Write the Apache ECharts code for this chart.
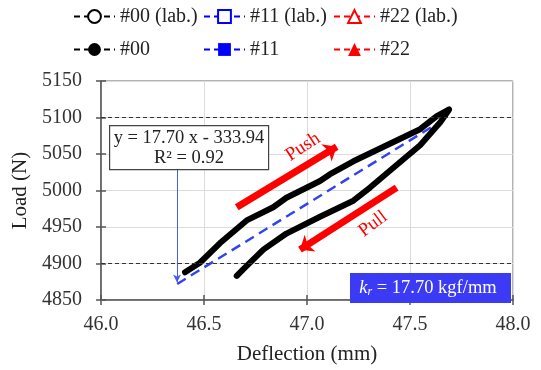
<!DOCTYPE html>
<html>
<head>
<meta charset="utf-8">
<script src="https://cdn.jsdelivr.net/npm/echarts@6/dist/echarts.min.js"></script>
<style>
  html, body { margin: 0; padding: 0; background: #fff; }
  #chart { width: 541px; height: 370px; }
</style>
</head>
<body>
<div id="chart"></div>
<script>
// 荷载-位移滞回曲线 (push 上行, pull 下行)
var pushBranch = [
  [46.408, 4888], [46.48, 4901], [46.578, 4928], [46.707, 4959], [46.836, 4977],
  [46.90, 4990], [47.063, 5013], [47.11, 5022], [47.225, 5040], [47.387, 5062],
  [47.549, 5084], [47.63, 5102], [47.69, 5111]
]
var pullBranch = [
  [47.646, 5093], [47.549, 5062], [47.435, 5035], [47.306, 5004], [47.225, 4986],
  [47.063, 4964], [46.90, 4941], [46.788, 4919], [46.69, 4892], [46.659, 4883]
]
// 线性拟合
var fitLine = [[46.37, 4872], [47.68, 5100]]
var refLoads = [4900, 5100]
var pushArrow = [[46.659, 4977], [47.144, 5060]]
var pullArrow = [[47.435, 5004], [46.966, 4919]]
var noteArrow = [[46.369, 5032], [46.369, 4874]]
var fitText = ['y = 17.70 x - 333.94', 'R² = 0.92']
var krText = '17.70 kgf/mm'

var serif = "'Liberation Serif', 'Times New Roman', serif"
var legendSeries = [
  { name: '#00 (lab.)', color: '#000', symbol: 'emptyCircle' },
  { name: '#11 (lab.)', color: '#0000ff', symbol: 'emptyRect' },
  { name: '#22 (lab.)', color: '#ff0000', symbol: 'emptyTriangle' },
  { name: '#00', color: '#000', symbol: 'circle' },
  { name: '#11', color: '#0000ff', symbol: 'rect' },
  { name: '#22', color: '#ff0000', symbol: 'triangle' }
]

var chart = echarts.init(document.getElementById('chart'))

var legendCol = function (left, names) {
  return {
    orient: 'vertical',
    left: left,
    top: 6,
    padding: 0,
    itemWidth: 41,
    itemHeight: 16,
    itemGap: 12,
    selectedMode: false,
    textStyle: { fontFamily: serif, fontSize: 20, color: '#222', lineHeight: 21 },
    data: names
  }
}

var series = legendSeries.map(function (s) {
  return {
    name: s.name,
    type: 'line',
    data: [],
    symbol: s.symbol,
    symbolSize: 13,
    itemStyle: { color: s.color, borderWidth: 2 },
    lineStyle: { color: s.color, type: [6, 4], width: 2 }
  }
})

series.push({
  name: 'fit',
  type: 'line',
  data: fitLine,
  symbol: 'none',
  silent: true,
  lineStyle: { color: '#3344ee', type: [10, 6], width: 2.5 },
  z: 3,
  markLine: {
    silent: true,
    symbol: 'none',
    label: { show: false },
    lineStyle: { color: '#333', type: [4, 3], width: 1 },
    data: refLoads.map(function (v) { return { yAxis: v } })
  }
})

series.push({
  name: 'loop',
  type: 'line',
  data: pushBranch.concat(pullBranch),
  symbol: 'none',
  silent: true,
  lineStyle: { color: '#000', width: 6, join: 'round', cap: 'round' },
  z: 4
})

series.push({
  name: 'arrows',
  type: 'line',
  data: [],
  silent: true,
  markLine: {
    silent: true,
    symbol: ['none', 'arrow'],
    symbolSize: [15, 12],
    label: { show: false },
    data: [
      [{ coord: pushArrow[0], lineStyle: { color: '#ff0000', width: 7, type: 'solid' } }, { coord: pushArrow[1] }],
      [{ coord: pullArrow[0], lineStyle: { color: '#ff0000', width: 7, type: 'solid' } }, { coord: pullArrow[1] }]
    ]
  },
  z: 5
})

series.push({
  name: 'note',
  type: 'line',
  data: [],
  silent: true,
  markLine: {
    silent: true,
    symbol: ['none', 'arrow'],
    symbolSize: [6, 8],
    label: { show: false },
    lineStyle: { color: '#4a5cf0', width: 1, type: 'solid' },
    data: [[{ coord: noteArrow[0] }, { coord: noteArrow[1] }]]
  },
  z: 5
})

var axisLabelStyle = { fontFamily: serif, fontSize: 20, color: '#333' }

var option = {
  animation: false,
  legend: [
    legendCol(73, ['#00 (lab.)', '#00']),
    legendCol(203, ['#11 (lab.)', '#11']),
    legendCol(333, ['#22 (lab.)', '#22'])
  ],
  grid: {
    left: 101, right: 28, top: 81, bottom: 65,
    show: true, borderColor: '#666', borderWidth: 1
  },
  xAxis: [
    {
      type: 'value', min: 46, max: 48, interval: 0.5,
      name: 'Deflection (mm)', nameLocation: 'middle', nameGap: 44,
      nameTextStyle: { fontFamily: serif, fontSize: 21, color: '#222' },
      axisLine: { lineStyle: { color: '#555', width: 1.5 } },
      axisTick: { length: 5, lineStyle: { color: '#555', width: 1.5 } },
      axisLabel: Object.assign({ margin: 15, formatter: function (v) { return v.toFixed(1) } }, axisLabelStyle),
      splitLine: { show: true, lineStyle: { color: '#dcdcdc', width: 1 } }
    },
    {
      type: 'value', min: 46, max: 48, interval: 0.5, position: 'bottom',
      axisLine: { show: false },
      axisTick: { inside: true, length: 5, lineStyle: { color: '#555', width: 1.5 } },
      axisLabel: { show: false },
      splitLine: { show: false }
    }
  ],
  yAxis: [
    {
      type: 'value', min: 4850, max: 5150, interval: 50,
      name: 'Load (N)', nameLocation: 'middle', nameGap: 68,
      nameTextStyle: { fontFamily: serif, fontSize: 21, color: '#222' },
      axisLine: { show: true, lineStyle: { color: '#555', width: 1.5 } },
      axisTick: { show: true, length: 5, lineStyle: { color: '#555', width: 1.5 } },
      axisLabel: Object.assign({ margin: 19, formatter: function (v) { return String(v) } }, axisLabelStyle),
      splitLine: { show: true, lineStyle: { color: '#dcdcdc', width: 1 } }
    },
    {
      type: 'value', min: 4850, max: 5150, interval: 50, position: 'left',
      axisLine: { show: false },
      axisTick: { show: true, inside: true, length: 5, lineStyle: { color: '#555', width: 1.5 } },
      axisLabel: { show: false },
      splitLine: { show: false }
    }
  ],
  graphic: [
    {
      type: 'rect', left: 109, top: 125, z: 10,
      shape: { width: 159, height: 44 },
      style: { fill: '#fff', stroke: '#444', lineWidth: 1.2 }
    },
    {
      type: 'text', x: 189, y: 148, z: 11,
      style: {
        text: fitText.join('\n'), fill: '#222', align: 'center', verticalAlign: 'middle',
        fontFamily: serif, fontSize: 18.5, lineHeight: 20
      }
    },
    {
      type: 'text', x: 303, y: 147, rotation: 0.58, z: 11,
      style: { text: 'Push', fill: '#ff0000', align: 'center', verticalAlign: 'middle', fontFamily: serif, fontSize: 19 }
    },
    {
      type: 'text', x: 373, y: 224, rotation: 0.64, z: 11,
      style: { text: 'Pull', fill: '#ff0000', align: 'center', verticalAlign: 'middle', fontFamily: serif, fontSize: 19 }
    },
    {
      type: 'rect', left: 350, top: 273, z: 10,
      shape: { width: 161, height: 30 },
      style: { fill: '#3b3bf5' }
    },
    {
      type: 'text', x: 428, y: 288, z: 11,
      style: {
        text: '{i|k}{s|r}{n| = ' + krText + '}',
        align: 'center', verticalAlign: 'middle',
        rich: {
          i: { fontFamily: serif, fontStyle: 'italic', fontSize: 18.5, fill: '#fff' },
          s: { fontFamily: serif, fontStyle: 'italic', fontSize: 12, fill: '#fff', padding: [7, 0, 0, 0] },
          n: { fontFamily: serif, fontSize: 18.5, fill: '#fff' }
        }
      }
    }
  ],
  series: series
}

chart.setOption(option)
</script>
</body>
</html>
